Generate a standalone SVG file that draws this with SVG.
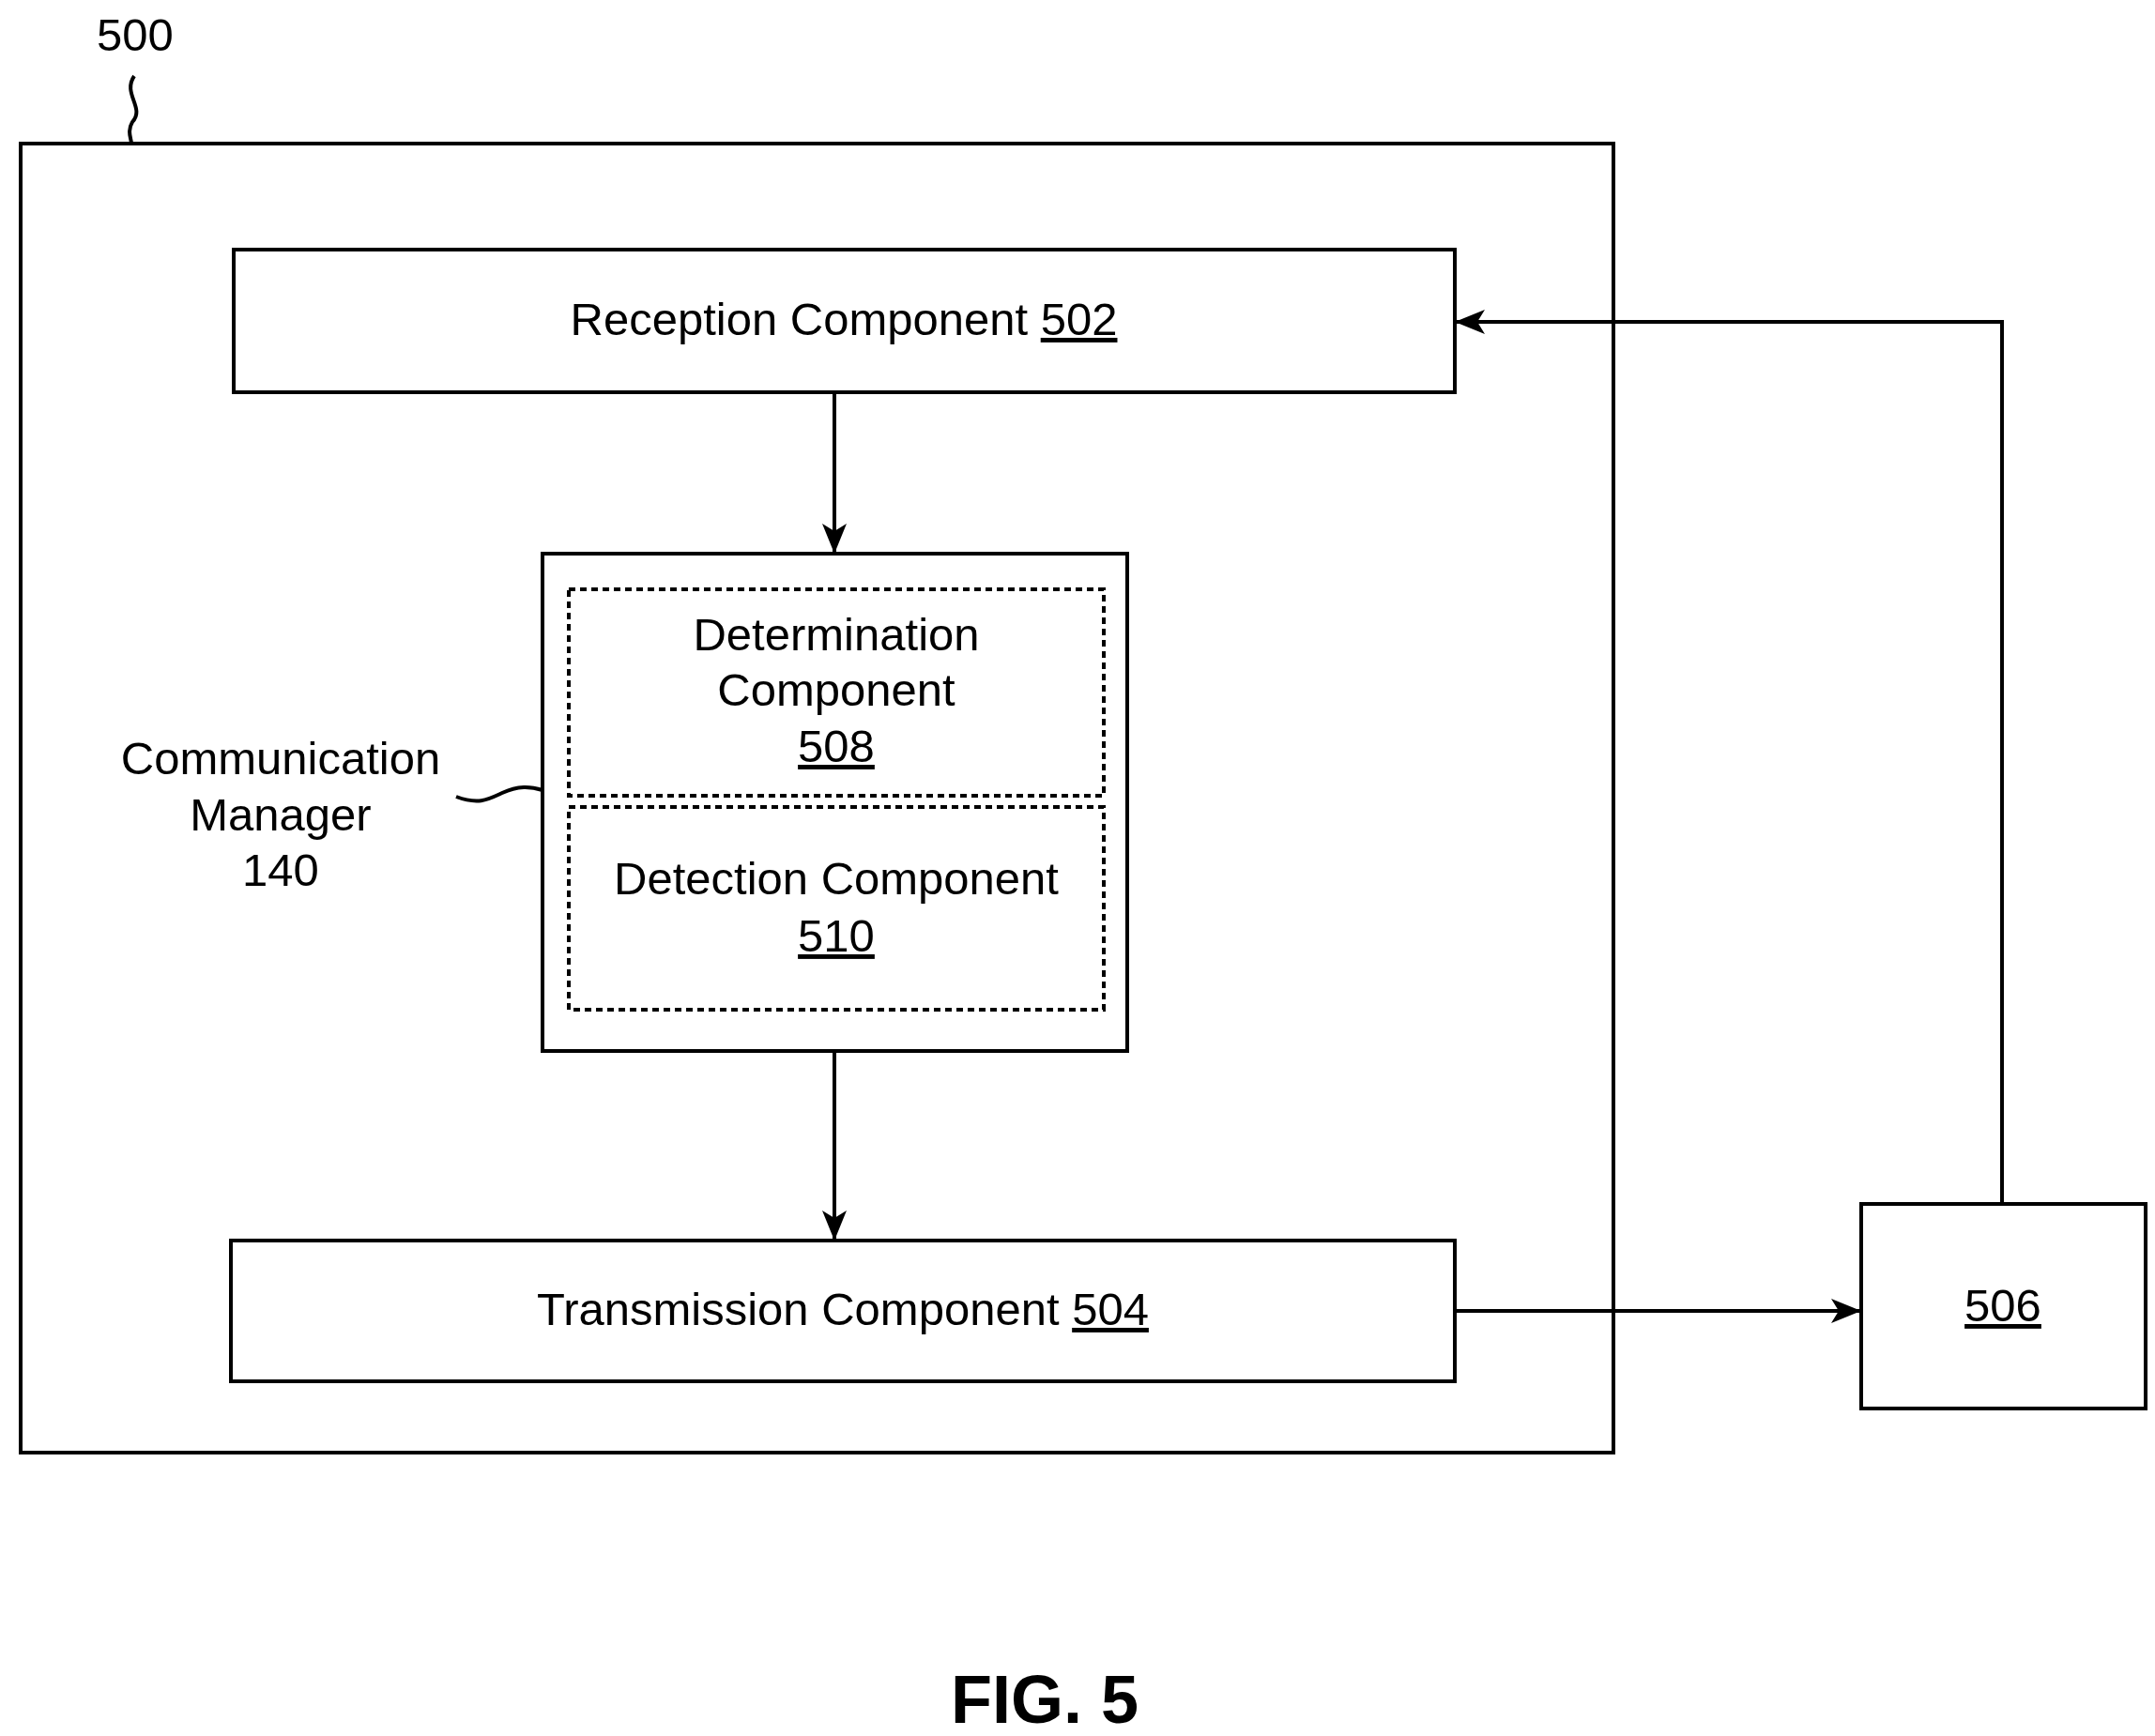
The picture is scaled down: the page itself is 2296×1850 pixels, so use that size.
<svg xmlns="http://www.w3.org/2000/svg" width="2296" height="1850" viewBox="0 0 2296 1850">
<style>
.b{fill:#fff;stroke:#000;stroke-width:4}
.d{fill:none;stroke:#000;stroke-width:4;stroke-dasharray:7,5}
.l{fill:none;stroke:#000;stroke-width:4}
text{font-family:"Liberation Sans",Arial,sans-serif;font-size:49px;text-anchor:middle;fill:#000}
.u{text-decoration:underline}
</style>
<defs>
<marker id="ah" markerWidth="32" markerHeight="26" refX="30" refY="13" orient="auto" markerUnits="userSpaceOnUse"><path d="M0,0L32,13L0,26L8,13z"/></marker></defs>
<rect width="2296" height="1850" fill="#fff"/>
<g id="n500"><rect class="b" x="22" y="153" width="1697" height="1395"/><text x="144" y="54">500</text><path class="l" d="M143,81 C130,100 155,115 141,130 C135,140 140,148 140,153"/></g>
<g id="n502"><rect class="b" x="249" y="266" width="1301" height="152"/><text x="899" y="357">Reception Component <tspan class="u">502</tspan></text></g>
<g id="n140"><rect class="b" x="578" y="590" width="623" height="530"/><text x="299" y="825">Communication</text><text x="299" y="885">Manager</text><text x="299" y="944">140</text><path class="l" d="M486,849 C510,858 520,852 535,845 C552,837 565,838 578,842"/></g>
<g id="n508"><rect class="d" x="606" y="628" width="570" height="220"/><text x="891" y="693">Determination</text><text x="891" y="752">Component</text><text x="891" y="812" class="u">508</text></g>
<g id="n510"><rect class="d" x="606" y="860" width="570" height="216"/><text x="891" y="953">Detection Component</text><text x="891" y="1014" class="u">510</text></g>
<g id="n504"><rect class="b" x="246" y="1322" width="1304" height="150"/><text x="898" y="1412">Transmission Component <tspan class="u">504</tspan></text></g>
<g id="n506"><rect class="b" x="1983" y="1283" width="303" height="218"/><text x="2134" y="1408" class="u">506</text></g>
<g id="connectors">
<path class="l" d="M889,418V588" marker-end="url(#ah)"/>
<path class="l" d="M889,1120V1320" marker-end="url(#ah)"/>
<path class="l" d="M1550,1397H1981" marker-end="url(#ah)"/>
<path class="l" d="M2133,1283V343H1552" marker-end="url(#ah)"/>
</g>
<text x="1113" y="1836" style="font-size:72px;font-weight:bold">FIG. 5</text>
</svg>
